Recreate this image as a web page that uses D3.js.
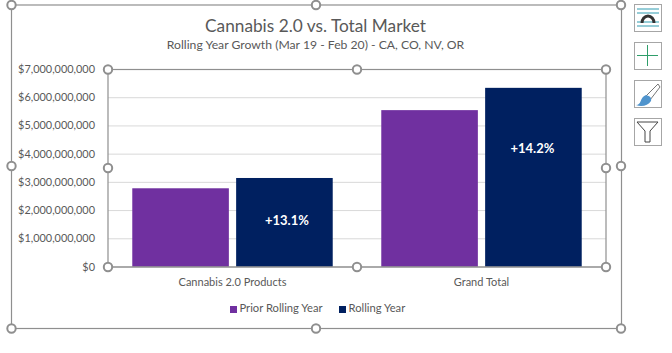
<!DOCTYPE html>
<html lang="en">
<head>
  <meta charset="UTF-8">
  <title>Cannabis 2.0 vs. Total Market</title>
  <script src="https://d3js.org/d3.v7.min.js"></script>
  <style>
    html, body { margin: 0; padding: 0; background: #fff; }
    svg { display: block; font-family: Lato, "Open Sans", sans-serif; }
  </style>
</head>
<body>
  <div id="chart"></div>

  <script>
    // Values
    const categories = ["Cannabis 2.0 Products", "Grand Total"];
    const seriesNames = ["Prior Rolling Year", "Rolling Year"];
    const priorRollingYear = [2.79e9, 5.56e9];
    const rollingYear = [3.155e9, 6.35e9];
    const growthLabels = ["+13.1%", "+14.2%"];
    const growthLabelLevels = [1.64e9, 4.2e9]; // where the label sits on the y axis
    const yTicks = [0, 1e9, 2e9, 3e9, 4e9, 5e9, 6e9, 7e9];
    const colors = ["#7030a0", "#002060"];

    const width = 672, height = 353;
    const plot = { left: 108, right: 606, top: 69.5, bottom: 267 };
    const frame = { left: 11.5, right: 621.5, top: 5, bottom: 328.5 };

    const svg = d3.select("#chart").append("svg")
      .attr("width", width)
      .attr("height", height);

    const x0 = d3.scaleBand()
      .domain(categories)
      .range([plot.left, plot.right])
      .paddingInner(0.195)
      .paddingOuter(0.0975);

    const x1 = d3.scaleBand()
      .domain(seriesNames)
      .range([0, x0.bandwidth()])
      .paddingInner(0.07);

    const y = d3.scaleLinear()
      .domain([0, 7e9])
      .range([plot.bottom, plot.top]);

    // Gridlines
    svg.append("g").selectAll("line")
      .data(yTicks.slice(1))
      .enter().append("line")
        .attr("x1", plot.left)
        .attr("x2", plot.right)
        .attr("y1", d => y(d))
        .attr("y2", d => y(d))
        .style("stroke", "#d9d9d9")
        .style("stroke-width", 1);

    // Y axis labels
    const yAxis = svg.append("g")
      .attr("transform", "translate(" + plot.left + ",0)")
      .call(d3.axisLeft(y).tickValues(yTicks).tickSize(0).tickPadding(13)
        .tickFormat(d => "$" + d3.format(",")(d)));
    yAxis.select(".domain").remove();
    yAxis.selectAll("text")
      .attr("dy", "0.28em")
      .style("font-family", "Lato, 'Open Sans', sans-serif")
      .style("font-size", "10.9px")
      .style("fill", "#595959");

    // Bars
    const seriesValues = [priorRollingYear, rollingYear];
    seriesNames.forEach((name, s) => {
      svg.append("g").selectAll("rect")
        .data(categories)
        .enter().append("rect")
          .attr("x", d => x0(d) + x1(name))
          .attr("y", (d, i) => y(seriesValues[s][i]))
          .attr("width", x1.bandwidth())
          .attr("height", (d, i) => y(0) - y(seriesValues[s][i]))
          .style("fill", colors[s]);
    });

    // Growth labels inside the Rolling Year bars
    const labelShift = [2.5, -1];
    svg.append("g").selectAll("text")
      .data(categories)
      .enter().append("text")
        .attr("x", (d, i) => x0(d) + x1(seriesNames[1]) + x1.bandwidth() / 2 + labelShift[i])
        .attr("y", (d, i) => y(growthLabelLevels[i]) + 4.5)
        .style("text-anchor", "middle")
        .style("font-size", "13px")
        .style("font-weight", "bold")
        .style("fill", "#fff")
        .text((d, i) => growthLabels[i]);

    // Baseline
    svg.append("line")
      .attr("x1", plot.left).attr("x2", plot.right)
      .attr("y1", y(0)).attr("y2", y(0))
      .style("stroke", "#a6a6a6");

    // X axis labels
    svg.append("g").selectAll("text")
      .data(categories)
      .enter().append("text")
        .attr("x", d => x0(d) + x0.bandwidth() / 2)
        .attr("y", 286)
        .style("text-anchor", "middle")
        .style("font-size", "11px")
        .style("fill", "#595959")
        .text(d => d);

    // Titles
    svg.append("text")
      .attr("x", 315.5).attr("y", 32)
      .style("text-anchor", "middle")
      .style("font-size", "17.25px")
      .style("fill", "#595959")
      .text("Cannabis 2.0 vs. Total Market");
    svg.append("text")
      .attr("x", 315.5).attr("y", 49)
      .style("text-anchor", "middle")
      .style("font-size", "12.2px")
      .style("fill", "#595959")
      .text("Rolling Year Growth (Mar 19 - Feb 20) - CA, CO, NV, OR");

    // Legend
    const legendX = [230, 339];
    seriesNames.forEach((name, s) => {
      svg.append("rect")
        .attr("x", legendX[s]).attr("y", 306)
        .attr("width", 7).attr("height", 7)
        .style("fill", colors[s]);
      svg.append("text")
        .attr("x", legendX[s] + 9.5).attr("y", 312)
        .style("font-size", "11.2px")
        .style("fill", "#595959")
        .text(name);
    });

    // Selection frames and handles
    const gray = "#8f8f8f";
    function selection(box, handles) {
      svg.append("rect")
        .attr("x", box.left).attr("y", box.top)
        .attr("width", box.right - box.left)
        .attr("height", box.bottom - box.top)
        .style("fill", "none")
        .style("stroke", gray)
        .style("stroke-width", 1.2);
      svg.append("g").selectAll("circle")
        .data(handles)
        .enter().append("circle")
          .attr("cx", d => d[0])
          .attr("cy", d => d[1])
          .attr("r", 4.2)
          .style("fill", "#fff")
          .style("stroke", gray)
          .style("stroke-width", 2);
    }
    selection(frame, [
      [frame.left, frame.top], [316, frame.top], [621, frame.top],
      [frame.left, 166], [621, 166],
      [frame.left, frame.bottom], [316, frame.bottom], [621, frame.bottom]
    ]);
    selection({ left: plot.left, right: plot.right, top: plot.top, bottom: plot.bottom }, [
      [plot.left, plot.top], [357, plot.top], [606, plot.top],
      [plot.left, 168], [606, 168],
      [plot.left, plot.bottom], [357, plot.bottom], [606, plot.bottom]
    ]);

    // Side buttons
    const buttonY = [4, 42, 80, 118];
    svg.append("g").selectAll("rect")
      .data(buttonY)
      .enter().append("rect")
        .attr("x", 634.5).attr("y", d => d + 0.5)
        .attr("width", 27).attr("height", 27)
        .style("fill", "#fff")
        .style("stroke", "#a6a6a6");

    const teal = "#2e9bb0";
    [9, 13, 22, 26].forEach(v => {
      svg.append("line").attr("x1", 637).attr("x2", 659)
        .attr("y1", v).attr("y2", v)
        .style("stroke", teal);
    });
    svg.append("path")
      .attr("d", "M642 23 A6 7 0 0 1 654 23")
      .style("fill", "none").style("stroke", "#333").style("stroke-width", 3);

    svg.append("path")
      .attr("d", "M647.5 45V66M637 55.5H658")
      .style("fill", "none").style("stroke", "#2f9e6a");

    svg.append("path")
      .attr("d", "M658 84L646 96L650 100L660 87Z")
      .style("fill", "#fff").style("stroke", "#777");
    svg.append("path")
      .attr("d", "M636 105C642 105 639 98 646 95C650 96 652 98 651 101C648 106 641 107 636 105Z")
      .style("fill", "#4f94cd");

    svg.append("path")
      .attr("d", "M637 122H658L650 131V142H645V131Z")
      .style("fill", "#fff").style("stroke", "#444");
  </script>
</body>
</html>
